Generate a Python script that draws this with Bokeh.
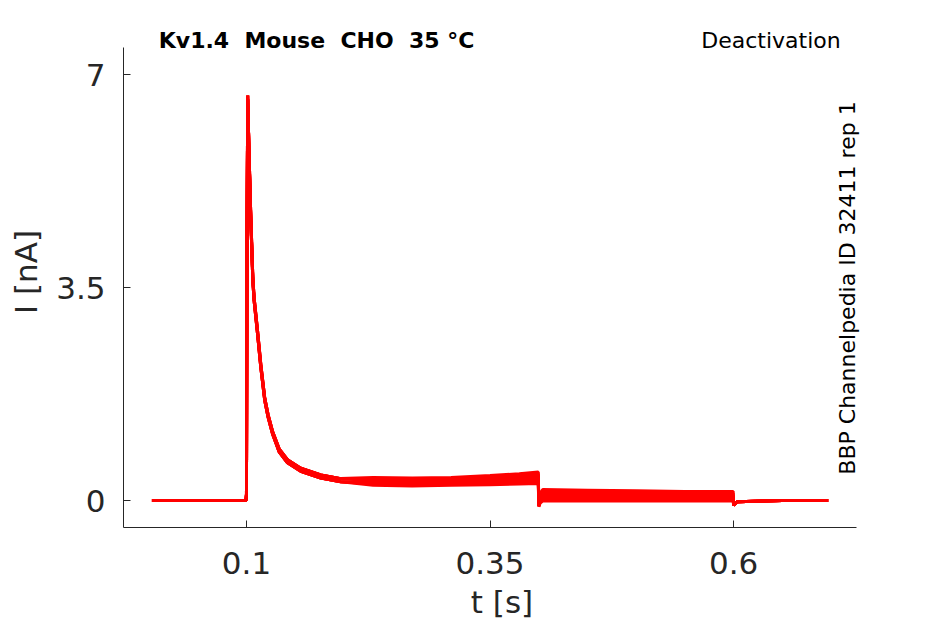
from math import pi
from bokeh.plotting import figure
from bokeh.models import Range1d, FixedTicker, Label
from bokeh.embed import file_html
from bokeh.resources import INLINE

# baseline before the step (s, nA)
t_base = [0.003, 0.05, 0.0995]
i_base = [0.0, 0.0, 0.0]

# activation step: fast peak then inactivation (two slightly different decays)
t_rise = [0.1, 0.1006, 0.1013, 0.1027, 0.1044, 0.1065, 0.1078, 0.1113, 0.1147, 0.1188,
          0.1222, 0.1267, 0.1335, 0.1421, 0.1557, 0.1763, 0.1968]
i_rise_a = [0.1, 4.5, 6.66, 5.63, 4.64, 3.62, 3.29, 2.75, 2.19, 1.64,
            1.37, 1.10, 0.80, 0.62, 0.48, 0.37, 0.31]
i_rise_b = [0.1, 4.4, 6.60, 5.68, 4.70, 3.68, 3.34, 2.80, 2.24, 1.68,
            1.41, 1.14, 0.85, 0.67, 0.53, 0.42, 0.36]

# sustained part of the step, one list per sweep
t_hold = [0.23, 0.27, 0.31, 0.35, 0.38, 0.3995]
hold_1 = [0.25, 0.24, 0.25, 0.26, 0.27, 0.28]
hold_2 = [0.27, 0.26, 0.27, 0.29, 0.30, 0.31]
hold_3 = [0.29, 0.28, 0.29, 0.31, 0.33, 0.34]
hold_4 = [0.30, 0.30, 0.31, 0.33, 0.35, 0.37]
hold_5 = [0.32, 0.31, 0.33, 0.35, 0.37, 0.39]
hold_6 = [0.34, 0.33, 0.34, 0.37, 0.40, 0.42]
hold_7 = [0.36, 0.35, 0.36, 0.39, 0.42, 0.44]
hold_8 = [0.38, 0.37, 0.38, 0.41, 0.44, 0.47]

# deactivation tails
t_tail = [0.4, 0.4015, 0.404, 0.45, 0.5, 0.55, 0.5995]
tail_1 = [-0.10, -0.04, -0.01, -0.01, -0.01, -0.01, -0.01]
tail_2 = [-0.10, -0.02, 0.01, 0.01, 0.01, 0.01, 0.00]
tail_3 = [-0.09, 0.00, 0.04, 0.03, 0.03, 0.03, 0.02]
tail_4 = [-0.08, 0.03, 0.06, 0.06, 0.05, 0.05, 0.05]
tail_5 = [-0.07, 0.05, 0.09, 0.08, 0.08, 0.07, 0.07]
tail_6 = [-0.06, 0.08, 0.12, 0.11, 0.10, 0.10, 0.09]
tail_7 = [-0.05, 0.10, 0.15, 0.14, 0.13, 0.12, 0.12]
tail_8 = [-0.04, 0.12, 0.18, 0.17, 0.16, 0.15, 0.15]

# back to holding
t_end = [0.6, 0.6015, 0.604, 0.65, 0.697]
i_end = [-0.08, -0.05, -0.02, 0.0, 0.0]

x_ticks = [0.1, 0.35, 0.6]
x_tick_labels = ["0.1", "0.35", "0.6"]
y_ticks = [0, 3.5, 7]
y_tick_labels = ["0", "3.5", "7"]

holds = [hold_1, hold_2, hold_3, hold_4, hold_5, hold_6, hold_7, hold_8]
tails = [tail_1, tail_2, tail_3, tail_4, tail_5, tail_6, tail_7, tail_8]

FONT = "DejaVu Sans"
GREY = "#262626"
NB = "\u00a0"  # keeps the double spaces of the title

# the frame is made larger than the axes so the texts above and at the right are not clipped
p = figure(frame_width=757, frame_height=511, title=None,
           x_range=Range1d(-0.0262, 0.7507), y_range=Range1d(-0.444, 7.96),
           output_backend="svg", toolbar_location=None,
           min_border_left=123, min_border_right=30, min_border_top=16, min_border_bottom=89)
p.outline_line_color = None
p.grid.grid_line_color = None

for k in range(8):
    rise = i_rise_a if k < 4 else i_rise_b
    ts = t_base + t_rise + t_hold + t_tail + t_end
    ys = i_base + rise + holds[k] + tails[k] + i_end
    p.line(ts, ys, line_color="#ff0000", line_width=3)

# axes, MATLAB style: ticks inside, box off
for ax in (p.xaxis, p.yaxis):
    ax.axis_line_color = GREY
    ax.major_tick_line_color = GREY
    ax.major_tick_in = 7
    ax.major_tick_out = 0
    ax.minor_tick_line_color = None
    ax.major_label_text_font = FONT
    ax.major_label_text_font_size = "31px"
    ax.major_label_text_color = GREY
    ax.axis_label_text_font = FONT
    ax.axis_label_text_font_size = "31px"
    ax.axis_label_text_font_style = "normal"
    ax.axis_label_text_color = GREY

p.xaxis.ticker = FixedTicker(ticks=x_ticks)
p.xaxis.major_label_overrides = dict(zip(x_ticks, x_tick_labels))
p.xaxis.bounds = (-0.0262, 0.726)
p.xaxis.axis_label = "t [s]"
p.xaxis.major_label_standoff = 24
p.xaxis.axis_label_standoff = 7

p.yaxis.ticker = FixedTicker(ticks=y_ticks)
p.yaxis.major_label_overrides = dict(zip(y_ticks, y_tick_labels))
p.yaxis.bounds = (-0.444, 7.449)
p.yaxis.axis_label = "I [nA]"
p.yaxis.major_label_standoff = 18
p.yaxis.axis_label_standoff = 9

title_text = "Kv1.4" + NB + " Mouse" + NB + " CHO" + NB + " 35 °C"
p.add_layout(Label(x=0.01, y=7.57, text=title_text, text_font=FONT,
                   text_font_size="22px", text_font_style="bold", text_color="black",
                   text_baseline="alphabetic", text_align="left"))
p.add_layout(Label(x=0.7098, y=7.57, text="Deactivation", text_font=FONT,
                   text_font_size="22px", text_color="black",
                   text_baseline="alphabetic", text_align="right"))
p.add_layout(Label(x=0.717, y=3.495, text="BBP Channelpedia ID 32411 rep 1", angle=pi / 2,
                   text_font=FONT, text_font_size="22px", text_color="black",
                   text_baseline="middle", text_align="center"))

open("out.html", "w").write(file_html(p, INLINE))
